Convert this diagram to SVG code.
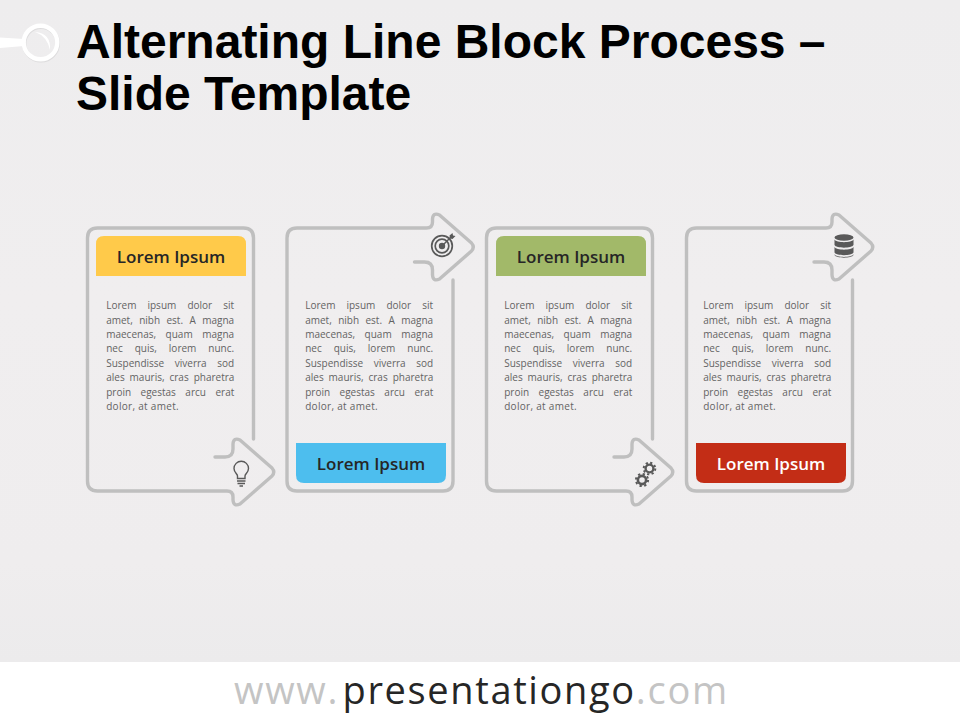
<svg xmlns="http://www.w3.org/2000/svg" width="960" height="720" viewBox="0 0 960 720">
<style>
.title{font-family:"Liberation Sans",Arial,sans-serif;font-weight:700;font-size:48px;fill:#000}
.head{font-family:"Open Sans",sans-serif;font-weight:600;font-size:17px;text-anchor:middle;fill:#262626}
.body{font-family:"Open Sans",sans-serif;font-size:10px;fill:#636363}
.outline{fill:none;stroke:#bfbfbf;stroke-width:3.4;stroke-linecap:round;stroke-linejoin:round}
.icon{fill:none;stroke:#595959}
.iconf{fill:#595959}
.foot{font-family:"Open Sans",sans-serif;font-size:38px;letter-spacing:1.74px}
</style>
<defs>
<linearGradient id="bg" x1="0" y1="0" x2="0" y2="1"><stop offset="0" stop-color="#eeedee"/><stop offset=".45" stop-color="#f0eeef"/><stop offset=".85" stop-color="#efedee"/><stop offset="1" stop-color="#ecebec"/></linearGradient>
<path id="cardDown" d="M253.500 439V238Q253.500 228 243.500 228H97.500Q87.500 228 87.500 238V481Q87.500 491 97.500 491H227Q233 491 233 497V500Q233.500 507 240 504L272 476Q275.500 472 272 468L240 440Q233.500 437 233 444V449Q233 457 225 457H215"/>
</defs>
<rect id="background" width="960" height="662" fill="url(#bg)"/>
<rect id="footer-band" y="662" width="960" height="58" fill="#fff"/>
<g id="bullet">
<circle cx="41" cy="43.500" r="16.800" fill="none" stroke="#dddcdd" stroke-width="4.400"/>
<path d="M0 37.500L24 39V46L0 48Z" fill="#fff"/>
<circle cx="40.500" cy="42.500" r="16.800" fill="none" stroke="#fff" stroke-width="4.400"/>
<path d="M35 32Q51 33 50 50Q47 36 35 32Z" fill="#fff"/>
</g>
<g id="title"><text class="title" x="76" y="58">Alternating Line Block Process –</text><text class="title" x="76" y="110">Slide Template</text></g>
<g id="connectors">
<use href="#cardDown" class="outline"/>
<use href="#cardDown" class="outline" transform="translate(199.500 719) scale(1 -1)"/>
<use href="#cardDown" class="outline" transform="translate(399 0)"/>
<use href="#cardDown" class="outline" transform="translate(599 719) scale(1 -1)"/>
</g>
<g id="node-1">
<path d="M96 276V244Q96 236 104 236H238Q246 236 246 244V276Z" fill="#ffca4a"/>
<text class="head" x="171" y="262.800">Lorem Ipsum</text>
<g class="body"><text x="106.200" y="309" word-spacing="8.500">Lorem ipsum dolor sit</text><text x="106.200" y="323.500" word-spacing="3.800">amet, nibh est. A magna</text><text x="106.200" y="338" word-spacing="6.950">maecenas, quam magna</text><text x="106.200" y="352" word-spacing="9.400">nec quis, lorem nunc.</text><text x="106.200" y="367" word-spacing="7.950">Suspendisse viverra sod</text><text x="106.200" y="381" word-spacing="2.360">ales mauris, cras pharetra</text><text x="106.200" y="396" word-spacing="6.900">proin egestas arcu erat</text><text x="106.200" y="410" letter-spacing=".3">dolor, at amet.</text></g>
<g id="icon-bulb"><path class="icon" stroke-width="1.400" d="M237.500 478.500V476C237.500 474 234 472.500 234 468.500A7 7 0 0 1 248.500 468.500C248.500 472.500 245 474 245 476V478.500Z"/><path class="icon" stroke-width="1.300" d="M237 481H245.500M237.500 483.500H245"/><path class="icon" stroke-width="1.500" d="M239.500 486H243"/></g>
</g>
<g id="node-2">
<path d="M296 443V475Q296 483 304 483H438Q446 483 446 475V443Z" fill="#4dbeee"/>
<text class="head" x="371" y="469.800">Lorem Ipsum</text>
<g class="body"><text x="305.200" y="309" word-spacing="8.500">Lorem ipsum dolor sit</text><text x="305.200" y="323.500" word-spacing="3.800">amet, nibh est. A magna</text><text x="305.200" y="338" word-spacing="6.950">maecenas, quam magna</text><text x="305.200" y="352" word-spacing="9.400">nec quis, lorem nunc.</text><text x="305.200" y="367" word-spacing="7.950">Suspendisse viverra sod</text><text x="305.200" y="381" word-spacing="2.360">ales mauris, cras pharetra</text><text x="305.200" y="396" word-spacing="6.900">proin egestas arcu erat</text><text x="305.200" y="410" letter-spacing=".3">dolor, at amet.</text></g>
<g id="icon-target"><circle class="icon" cx="442" cy="246" r="10.300" stroke-width="1.700"/><circle class="icon" cx="442" cy="246" r="6.800" stroke-width="1.700"/><circle class="iconf" cx="442" cy="246" r="3.200"/><path class="icon" stroke-width="1.500" d="M442 246L451.500 236.500"/><path class="iconf" d="M449.500 235.500L452.500 233L453 235.500L455.500 236L452.500 239L450 238.500Z"/></g>
</g>
<g id="node-3">
<path d="M496 276V244Q496 236 504 236H638Q646 236 646 244V276Z" fill="#a2b969"/>
<text class="head" x="571" y="262.800">Lorem Ipsum</text>
<g class="body"><text x="504.200" y="309" word-spacing="8.500">Lorem ipsum dolor sit</text><text x="504.200" y="323.500" word-spacing="3.800">amet, nibh est. A magna</text><text x="504.200" y="338" word-spacing="6.950">maecenas, quam magna</text><text x="504.200" y="352" word-spacing="9.400">nec quis, lorem nunc.</text><text x="504.200" y="367" word-spacing="7.950">Suspendisse viverra sod</text><text x="504.200" y="381" word-spacing="2.360">ales mauris, cras pharetra</text><text x="504.200" y="396" word-spacing="6.900">proin egestas arcu erat</text><text x="504.200" y="410" letter-spacing=".3">dolor, at amet.</text></g>
<g id="icon-gears"><circle class="icon" cx="649.500" cy="468.500" r="3.900" stroke-width="2.400"/><circle class="icon" cx="649.500" cy="468.500" r="5.800" stroke-width="2" stroke-dasharray="2.200 2.350"/><circle class="icon" cx="642" cy="480" r="4.100" stroke-width="2.600"/><circle class="icon" cx="642" cy="480" r="6.100" stroke-width="2" stroke-dasharray="2.300 2.490"/></g>
</g>
<g id="node-4">
<path d="M696 443V475Q696 483 704 483H838Q846 483 846 475V443Z" fill="#c32d16"/>
<text class="head" x="771" y="469.800" style="fill:#fff">Lorem Ipsum</text>
<g class="body"><text x="703.200" y="309" word-spacing="8.500">Lorem ipsum dolor sit</text><text x="703.200" y="323.500" word-spacing="3.800">amet, nibh est. A magna</text><text x="703.200" y="338" word-spacing="6.950">maecenas, quam magna</text><text x="703.200" y="352" word-spacing="9.400">nec quis, lorem nunc.</text><text x="703.200" y="367" word-spacing="7.950">Suspendisse viverra sod</text><text x="703.200" y="381" word-spacing="2.360">ales mauris, cras pharetra</text><text x="703.200" y="396" word-spacing="6.900">proin egestas arcu erat</text><text x="703.200" y="410" letter-spacing=".3">dolor, at amet.</text></g>
<g id="icon-database" class="iconf"><ellipse cx="844" cy="237.500" rx="9.500" ry="3.300"/><path d="M834.500 239.500C836 243 852 243 853.500 239.500V245C852 248.500 836 248.500 834.500 245Z"/><path d="M834.500 247C836 250.500 852 250.500 853.500 247V252.500C852 256 836 256 834.500 252.500Z"/><path d="M834.500 254.300C836 257.800 852 257.800 853.500 254.300V255C852 258.500 836 258.500 834.500 255Z"/></g>
</g>
<g id="footer"><text class="foot" x="234" y="704"><tspan fill="#c4c4c4">www.</tspan><tspan x="342.500" fill="#262626" letter-spacing="1.640">presentationgo</tspan><tspan fill="#c4c4c4">.com</tspan></text></g>
</svg>
